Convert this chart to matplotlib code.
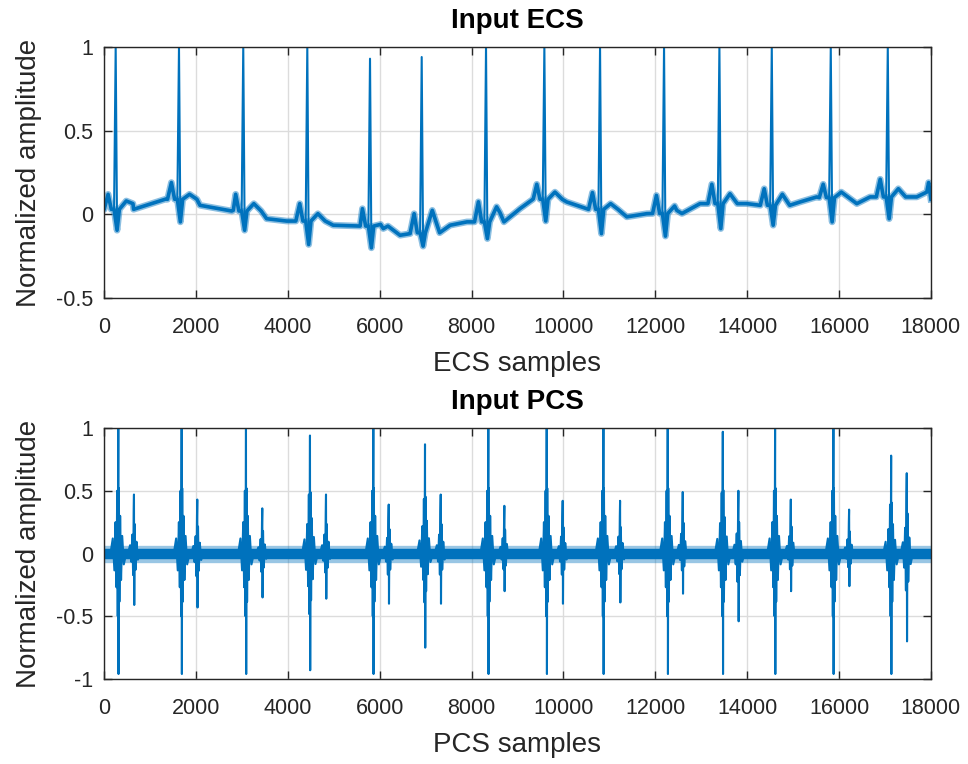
import numpy as np
import matplotlib
matplotlib.use("Agg")
import matplotlib.pyplot as plt

# ---------------- data ----------------
# ECS: R-peak positions / amplitudes and per-beat wave levels
ecs_r_pos = [255, 1633, 3032, 4426, 5791, 6916, 8316, 9586, 10798, 12191,
             13396, 14536, 15820, 17061]
ecs_r_amp = [1.0, 1.0, 1.0, 1.0, 0.93, 0.94, 1.0, 1.0, 1.0, 1.0,
             1.0, 1.0, 1.0, 1.0]
ecs_pre = [0.12, 0.19, 0.12, 0.064, 0.034, 0.004, 0.075, 0.18, 0.13, 0.113,
           0.18, 0.153, 0.18, 0.21]
ecs_q = [0.03, 0.09, 0.02, -0.04, -0.07, -0.11, -0.045, 0.09, 0.03, 0.005,
         0.064, 0.054, 0.10, 0.104]
ecs_s = [-0.095, -0.045, -0.095, -0.18, -0.20, -0.19, -0.145, -0.04, -0.115,
         -0.13, -0.085, -0.065, -0.045, -0.026]
ecs_t = [0.08, 0.12, 0.064, 0.004, -0.06, 0.024, 0.045, 0.133, 0.064, 0.05,
         0.123, 0.12, 0.133, 0.153]
# baseline wander between beats (sample, value)
ecs_base_x = [0, 631, 1365, 2090, 2815, 3540, 3975, 4990, 5575, 6080, 6445,
              6665, 7535, 7900, 8620, 9056, 9345, 10073, 10508, 11380, 11815,
              12467, 12975, 13992, 14281, 15152, 15515, 16387, 16676, 17692,
              17910, 17950, 18000]
ecs_base_y = [0.03, 0.064, 0.093, 0.054, 0.024, -0.026, -0.04, -0.065, -0.07,
              -0.085, -0.125, -0.115, -0.065, -0.045, 0.01, 0.034, 0.093,
              0.074, 0.034, -0.015, 0.004, 0.024, 0.064, 0.064, 0.054, 0.074,
              0.104, 0.064, 0.104, 0.104, 0.133, 0.19, 0.09]

# PCS: S1 / S2 burst positions and their positive / negative extremes
pcs_s1_pos = [312, 1691, 3091, 4484, 5863, 6988, 8366, 9637, 10871, 12271,
              13470, 14608, 15877, 17134]
pcs_s1_up = [1.0, 1.0, 1.0, 0.94, 1.0, 0.87, 1.0, 1.0, 1.0, 1.0,
             0.97, 1.0, 1.0, 0.78]
pcs_s1_dn = [-0.96, -0.96, -0.96, -0.93, -0.96, -0.75, -0.96, -0.96, -0.96,
             -0.96, -0.96, -0.96, -0.96, -0.96]
pcs_s2_pos = [653, 2031, 3446, 4833, 6198, 7330, 8715, 9985, 11234, 12598,
              13809, 14950, 16219, 17474]
pcs_s2_up = [0.47, 0.43, 0.36, 0.47, 0.39, 0.47, 0.38, 0.42, 0.42, 0.49,
             0.50, 0.43, 0.35, 0.64]
pcs_s2_dn = [-0.41, -0.43, -0.35, -0.36, -0.40, -0.40, -0.30, -0.40, -0.39,
             -0.32, -0.54, -0.30, -0.26, -0.70]

xticks = [0, 2000, 4000, 6000, 8000, 10000, 12000, 14000, 16000, 18000]

# ---------------- style ----------------
blue = "#0072BD"
axc = "#262626"
plt.rcParams["font.family"] = ["Liberation Sans", "DejaVu Sans"]
plt.rcParams["axes.unicode_minus"] = False

# burst shape templates (offset in samples, fraction of extreme)
s1_off = [-170, -120, -85, -60, -40, -24, -12, -4, 0, 5, 12, 24, 40, 60, 85,
          120, 170]
s1_frac = [0.0, 0.12, -0.14, 0.25, -0.28, 0.5, -0.52, 0.62, 1.0, -1.0, 0.52,
           -0.4, 0.3, -0.22, 0.14, -0.09, 0.0]
s2_off = [-130, -85, -58, -36, -18, -6, 0, 6, 16, 32, 55, 85, 130]
s2_frac = [0.0, 0.14, -0.16, 0.32, -0.42, 0.7, 1.0, -1.0, 0.5, -0.32, 0.2,
           -0.12, 0.0]


def burst(c, up, dn, off, frac):
    xs, ys = [], []
    for o, f in zip(off, frac):
        xs.append(c + o)
        ys.append(f * up if f >= 0 else -f * dn)
    return xs, ys


# assemble ECS key points
pts_full = list(zip(ecs_base_x, ecs_base_y))
pts_band = list(zip(ecs_base_x, ecs_base_y))
for r, a, p, q, s, t in zip(ecs_r_pos, ecs_r_amp, ecs_pre, ecs_q, ecs_s, ecs_t):
    beat = [(r - 250, q), (r - 165, p), (r - 95, q), (r - 35, q), (r, a),
            (r + 30, s), (r + 80, q), (r + 230, t), (r + 390, q)]
    pts_full += beat
    pts_band += [b for b in beat if b[0] != r]
pts_full.sort()
pts_band.sort()
fx, fy = zip(*pts_full)
bx, by = zip(*pts_band)

# assemble PCS key points
px, py = [0], [0.0]
for c, u, d in zip(pcs_s1_pos, pcs_s1_up, pcs_s1_dn):
    xs, ys = burst(c, u, d, s1_off, s1_frac)
    px += xs
    py += ys
for c, u, d in zip(pcs_s2_pos, pcs_s2_up, pcs_s2_dn):
    xs, ys = burst(c, u, d, s2_off, s2_frac)
    px += xs
    py += ys
px.append(18000)
py.append(0.0)
order = np.argsort(px, kind="stable")
px = np.array(px)[order]
py = np.array(py)[order]

fig = plt.figure(figsize=(9.68, 7.64), dpi=100)
ax1 = fig.add_axes([0.1074, 0.6099, 0.8543, 0.3286])
ax2 = fig.add_axes([0.1074, 0.1112, 0.8543, 0.3286])

# ECS
ax1.plot(bx, by, color=blue, lw=4.8, alpha=0.45)
ax1.plot(bx, by, color=blue, lw=2.6)
ax1.plot(fx, fy, color=blue, lw=1.5)
# PCS
ax2.plot([0, 18000], [0, 0], color=blue, lw=12.5, alpha=0.4)
ax2.plot([0, 18000], [0, 0], color=blue, lw=7.5)
ax2.plot(px, py, color=blue, lw=1.5)

for ax, yl, yt, ttl, xl in [
        (ax1, (-0.5, 1), [-0.5, 0, 0.5, 1], "Input ECS", "ECS samples"),
        (ax2, (-1, 1), [-1, -0.5, 0, 0.5, 1], "Input PCS", "PCS samples")]:
    ax.set_xlim(0, 18000)
    ax.set_ylim(*yl)
    ax.set_xticks(xticks)
    ax.set_xticklabels([str(v) for v in xticks])
    ax.set_yticks(yt)
    ax.set_yticklabels([("%g" % v) for v in yt])
    ax.grid(True, color="#dcdcdc", lw=1.0)
    ax.set_axisbelow(True)
    ax.tick_params(direction="in", length=6, width=1.0, color=axc,
                   labelcolor=axc, labelsize=15.5, top=True, right=True)
    ax.tick_params(axis="x", pad=14)
    ax.tick_params(axis="y", pad=8)
    for sp in ax.spines.values():
        sp.set_color(axc)
        sp.set_linewidth(1.0)
    ax.set_title(ttl, fontsize=20, fontweight="bold", color="black", pad=14)
    ax.set_xlabel(xl, fontsize=20, color=axc, labelpad=9)
    ax.set_ylabel("Normalized amplitude", fontsize=20, color=axc, labelpad=10)

fig.savefig("out.png", dpi=100)
